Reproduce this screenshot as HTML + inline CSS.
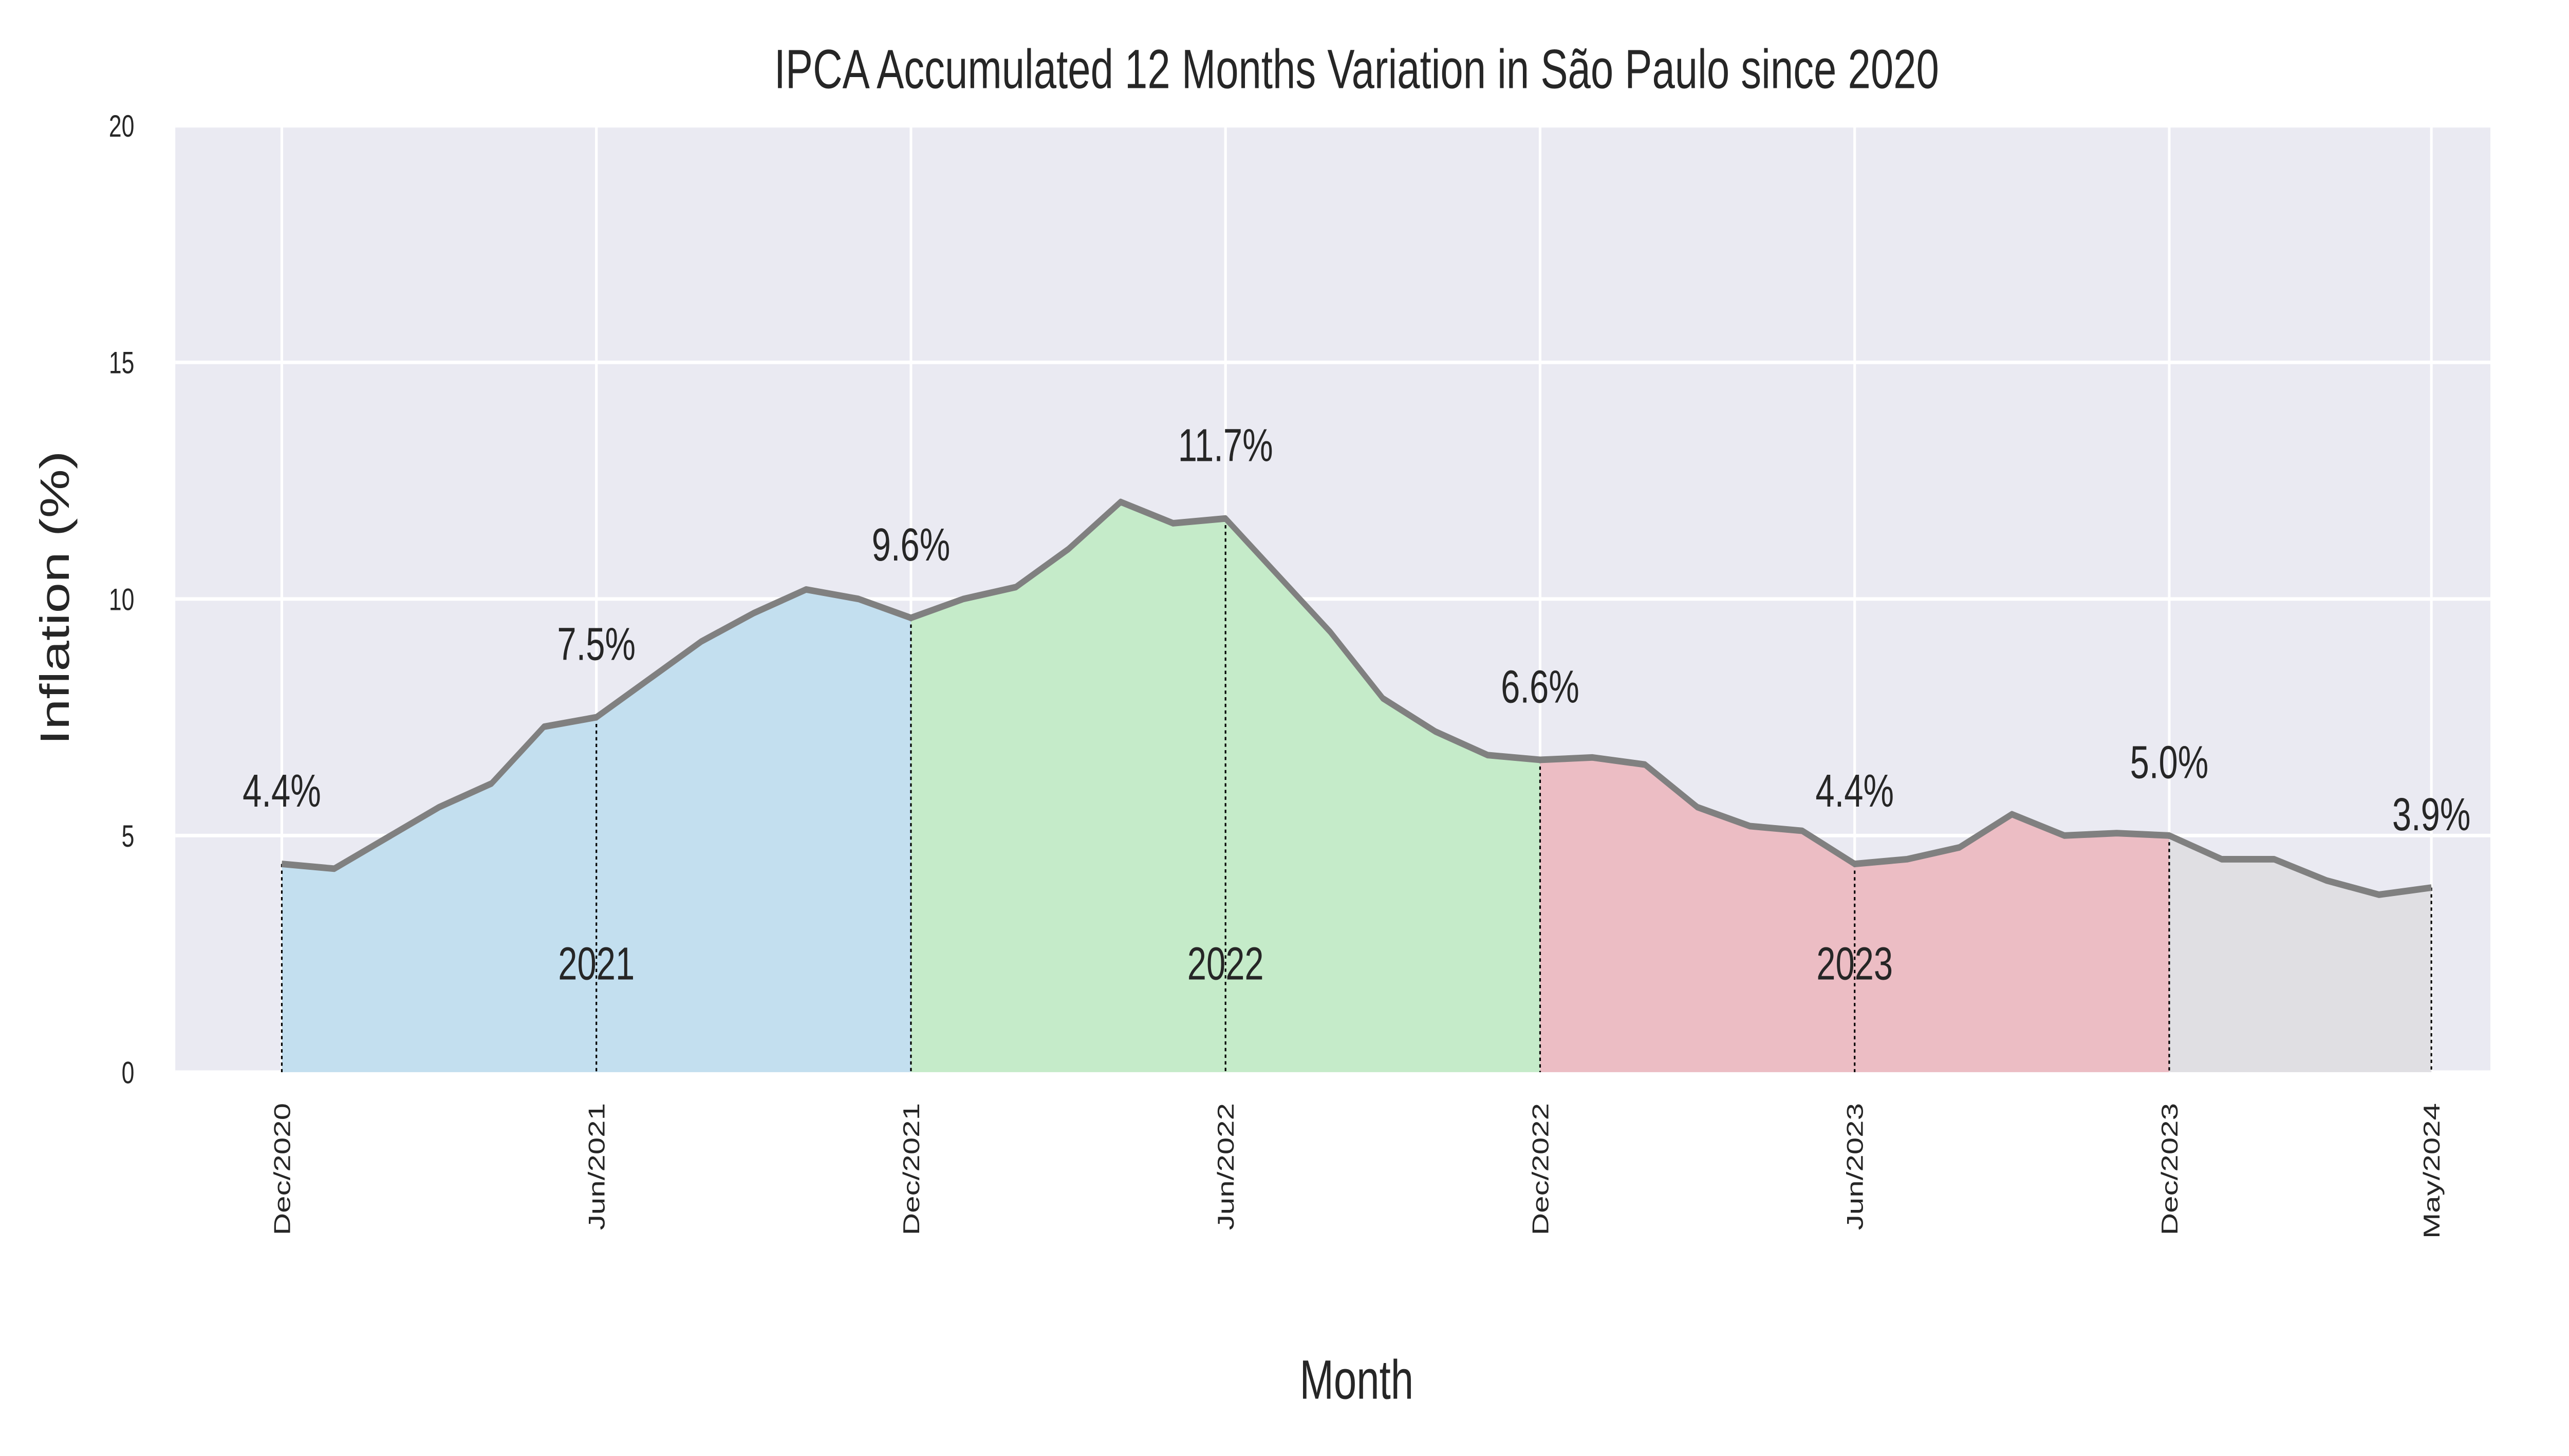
<!DOCTYPE html>
<html><head><meta charset="utf-8"><style>html,body{margin:0;padding:0;background:#fff;width:100%;height:100%;overflow:hidden}svg{display:block;position:fixed;left:0;top:0;width:100vw;height:100vh}</style></head>
<body>
<svg id="chart" viewBox="0 0 1568 660" preserveAspectRatio="none" xmlns="http://www.w3.org/2000/svg" font-family="Liberation Sans, DejaVu Sans, sans-serif">
<rect x="0" y="0" width="1568" height="660" fill="#ffffff"/>
<rect x="107" y="57" width="1413" height="429" fill="#eaeaf2"/>
<g id="grid"></g>
<g id="fills"></g>
<g id="drops"></g>
<g id="line"></g>
<g id="labels"></g>
<g id="ticks"></g>
<text x="828" y="40" text-anchor="middle" font-size="25" fill="#262626">IPCA Accumulated 12 Months Variation in São Paulo since 2020</text>
<text x="828" y="634" text-anchor="middle" font-size="25" fill="#262626">Month</text>
<text transform="translate(42,271) rotate(-90)" text-anchor="middle" font-size="25" fill="#262626">Inflation (%)</text>
</svg>
<script>
const months = ["Dec/2020","Jan/2021","Feb/2021","Mar/2021","Apr/2021","May/2021","Jun/2021","Jul/2021","Aug/2021","Sep/2021","Oct/2021","Nov/2021","Dec/2021","Jan/2022","Feb/2022","Mar/2022","Apr/2022","May/2022","Jun/2022","Jul/2022","Aug/2022","Sep/2022","Oct/2022","Nov/2022","Dec/2022","Jan/2023","Feb/2023","Mar/2023","Apr/2023","May/2023","Jun/2023","Jul/2023","Aug/2023","Sep/2023","Oct/2023","Nov/2023","Dec/2023","Jan/2024","Feb/2024","Mar/2024","Apr/2024","May/2024"];
const inflation = [4.4,4.3,4.95,5.6,6.1,7.3,7.5,8.3,9.1,9.7,10.2,10.0,9.6,10.0,10.25,11.05,12.05,11.6,11.7,10.5,9.3,7.9,7.2,6.7,6.6,6.65,6.5,5.6,5.2,5.1,4.4,4.5,4.75,5.45,5.0,5.05,5.0,4.5,4.5,4.05,3.75,3.9];
const tickMonths = ["Dec/2020","Jun/2021","Dec/2021","Jun/2022","Dec/2022","Jun/2023","Dec/2023","May/2024"];
const yTicks = [0,5,10,15,20];
const yearLabels = ["2021","2022","2023"];
const yearStart = ["Dec/2020","Dec/2021","Dec/2022","Dec/2023"];
const yearEnd = ["Dec/2021","Dec/2022","Dec/2023","May/2024"];
const yearColors = ["#c3dfef","#c5ebc9","#ecbdc4","#e0dfe3"];

const NS="http://www.w3.org/2000/svg";
const X0=172, DX=32, Y0=486, YTOP=57, YMAX=20;
const xs = i => X0 + i*DX;
const ys = v => Y0 - v/YMAX*(Y0-YTOP);
const idx = m => months.indexOf(m);
function mk(tag, attrs, parent){const e=document.createElementNS(NS,tag);for(const k in attrs)e.setAttribute(k,attrs[k]);document.getElementById(parent).appendChild(e);return e;}

yTicks.forEach(t=>{
  const g=mk('line',{x1:107,x2:1520,y1:ys(t),y2:ys(t),stroke:'#fff','stroke-width':1.6},'grid');
  
  
  const l=mk('text',{x:82,y:ys(t)+5,'text-anchor':'end','font-size':14,fill:'#262626'},'ticks');
  
  
  l.textContent=t;
});
tickMonths.forEach(m=>{
  const x=xs(idx(m));
  const g=mk('line',{x1:x,x2:x,y1:YTOP,y2:Y0,stroke:'#fff','stroke-width':1.6},'grid');
  
  
  const l=mk('text',{transform:`translate(${x+5},${500}) rotate(-90)`,'text-anchor':'end','font-size':14,fill:'#262626'},'ticks');
  
  
  l.textContent=m;
  const v=inflation[idx(m)];
  const d=mk('line',{x1:x,x2:x,y1:ys(v),y2:Y0,stroke:'#000','stroke-width':1,'stroke-dasharray':'1.5,1.5'},'drops');
  
  
  const vl=mk('text',{x:x,y:ys(v)-26,'text-anchor':'middle','font-size':21,fill:'#262626'},'labels');
  
  
  vl.textContent=v.toFixed(1)+'%';
});
yearStart.forEach((s,k)=>{
  const a=idx(s), b=idx(yearEnd[k]);
  let p=`M${xs(a)},${Y0}`;
  for(let i=a;i<=b;i++) p+=` L${xs(i)},${ys(inflation[i])}`;
  p+=` L${xs(b)},${Y0} Z`;
  const f=mk('path',{d:p,fill:yearColors[k]},'fills');
  
  
  if(k<yearLabels.length){
    const t=mk('text',{x:(xs(a)+xs(b))/2,y:444,'text-anchor':'middle','font-size':21,fill:'#262626'},'labels');
    
    
    t.textContent=yearLabels[k];
  }
});
const pts=inflation.map((v,i)=>`${xs(i)},${ys(v)}`).join(' ');
const ln=mk('polyline',{points:pts,fill:'none',stroke:'#808080','stroke-width':3,'stroke-linejoin':'round'},'line');


</script>
</body></html>
